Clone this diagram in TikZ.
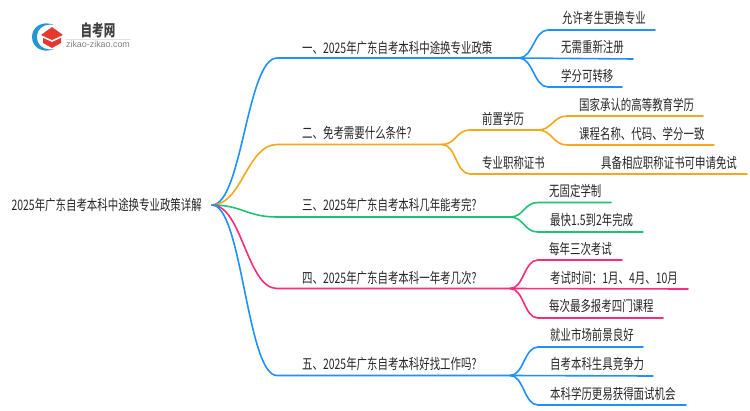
\documentclass[tikz,border=0pt]{standalone}
\usepackage{fontspec}
\setmainfont{Noto Sans CJK SC}[FakeStretch=0.72]
\newfontfamily\logolatin{Liberation Sans}
\usepackage{tikz}

\definecolor{lineblue}{HTML}{1E90FF}
\definecolor{lineorange}{HTML}{F5A81C}
\definecolor{linegreen}{HTML}{1EC274}
\definecolor{linepink}{HTML}{FA2A7C}
\definecolor{logoblue}{HTML}{2596D1}
\definecolor{logored}{HTML}{E5392F}

\tikzset{
    txt/.style={anchor=west, inner sep=0pt, font=\fontsize{14.5}{14.5}\selectfont, text=black!85},
    branch/.style={line width=1.6pt, line cap=round}
}

\begin{document}
\begin{tikzpicture}[x=1pt, y=-1pt]
    \useasboundingbox (0,0) rectangle (750,410);

    % Logo
    \fill[logoblue] (54,25) .. controls (42,20) and (32,27) .. (32,37) .. controls (32,47) and (42,54) .. (54,49) .. controls (44,51) and (37,45) .. (37,37) .. controls (37,29) and (44,23) .. (54,25) -- cycle;
    \fill[logored] (41,35) -- (52,27) -- (63,35) -- (52,40) -- cycle;
    \fill[logored] (43,38) -- (52,42) -- (61,38) -- (61,43) -- (52,48) -- (43,43) -- cycle;
    \draw[black!12, line width=0.5pt] (66,39) -- (131,39);
    \node[inner sep=0pt, font=\fontsize{16}{16}\selectfont\bfseries, text=black!75] (logoname) at (98,30.5) {自考网};
    \node[inner sep=0pt, font=\logolatin\fontsize{8.9}{9}\selectfont, text=black!50] (logourl) at (98,44.5) {zikao-zikao.com};

    % Text
    \node[txt, anchor=east] (root) at (202,205) {2025年广东自考本科中途换专业政策详解};
    \node[txt] (one) at (302,48) {一、2025年广东自考本科中途换专业政策};
    \node[txt] (two) at (302,133) {二、免考需要什么条件?};
    \node[txt] (three) at (302,205) {三、2025年广东自考本科几年能考完?};
    \node[txt] (four) at (302,278) {四、2025年广东自考本科一年考几次?};
    \node[txt] (five) at (302,364) {五、2025年广东自考本科好找工作吗?};

    \node[txt] (oneA) at (562,18) {允许考生更换专业};
    \node[txt] (oneB) at (561,47) {无需重新注册};
    \node[txt] (oneC) at (561,76) {学分可转移};

    \node[txt] (twoA) at (482,119) {前置学历};
    \node[txt] (twoB) at (482,163) {专业职称证书};
    \node[txt] (twoAa) at (579,105) {国家承认的高等教育学历};
    \node[txt] (twoAb) at (579,134) {课程名称、代码、学分一致};
    \node[txt] (twoBa) at (601,163) {具备相应职称证书可申请免试};

    \node[txt] (threeA) at (549,191) {无固定学制};
    \node[txt] (threeB) at (550,220) {最快1.5到2年完成};

    \node[txt] (fourA) at (549,249) {每年三次考试};
    \node[txt] (fourB) at (550,278) {考试时间：1月、4月、10月};
    \node[txt] (fourC) at (549,306) {每次最多报考四门课程};

    \node[txt] (fiveA) at (550,335) {就业市场前景良好};
    \node[txt] (fiveB) at (550,364) {自考本科生具竞争力};
    \node[txt] (fiveC) at (550,394) {本科学历更易获得面试机会};

    % Points on the lines
    \coordinate (start) at (212,205);
    \coordinate (b1) at (277,58);
    \coordinate (j1) at (519,58);
    \coordinate (b2) at (277,144.5);
    \coordinate (j2) at (442,144.5);
    \coordinate (b3) at (277,217);
    \coordinate (j3) at (510,217);
    \coordinate (b4) at (277,288.5);
    \coordinate (j4) at (510,288.5);
    \coordinate (b5) at (277,375.5);
    \coordinate (j5) at (510,375.5);
    \coordinate (c2a) at (470,130);
    \coordinate (j2a) at (538,130);
    \coordinate (c2b) at (470,174);

    % Branch one
    \draw[branch, lineblue] (start) .. controls +(30,0) and +(-30,0) .. (b1) -- (j1);
    \draw[branch, lineblue] (j1) .. controls +(14,0) and +(-14,0) .. (548,30) -- (655,30);
    \draw[branch, lineblue] (j1) -- (633,59);
    \draw[branch, lineblue] (j1) .. controls +(14,0) and +(-14,0) .. (548,87) -- (622,87);

    % Branch two
    \draw[branch, lineorange] (start) .. controls +(30,0) and +(-30,0) .. (b2) -- (j2);
    \draw[branch, lineorange] (j2) .. controls +(14,0) and +(-14,0) .. (c2a) -- (j2a);
    \draw[branch, lineorange] (j2a) .. controls +(14,0) and +(-14,0) .. (567,116) -- (703,116);
    \draw[branch, lineorange] (j2a) .. controls +(14,0) and +(-14,0) .. (567,145) -- (714,145);
    \draw[branch, lineorange] (j2) .. controls +(14,0) and +(-14,0) .. (c2b) -- (747,174);

    % Branch three
    \draw[branch, linegreen] (start) .. controls +(30,0) and +(-30,0) .. (b3) -- (j3);
    \draw[branch, linegreen] (j3) .. controls +(14,0) and +(-14,0) .. (538,202.5) -- (611,202.5);
    \draw[branch, linegreen] (j3) .. controls +(14,0) and +(-14,0) .. (538,232) -- (643,232);

    % Branch four
    \draw[branch, linepink] (start) .. controls +(30,0) and +(-30,0) .. (b4) -- (j4);
    \draw[branch, linepink] (j4) .. controls +(14,0) and +(-14,0) .. (538,260) -- (622,260);
    \draw[branch, linepink] (j4) -- (688,289);
    \draw[branch, linepink] (j4) .. controls +(14,0) and +(-14,0) .. (538,318) -- (663,318);

    % Branch five
    \draw[branch, lineblue] (start) .. controls +(30,0) and +(-30,0) .. (b5) -- (j5);
    \draw[branch, lineblue] (j5) .. controls +(14,0) and +(-14,0) .. (538,347) -- (643,347);
    \draw[branch, lineblue] (j5) -- (653,376);
    \draw[branch, lineblue] (j5) .. controls +(14,0) and +(-14,0) .. (538,405) -- (686,405);
\end{tikzpicture}
\end{document}
